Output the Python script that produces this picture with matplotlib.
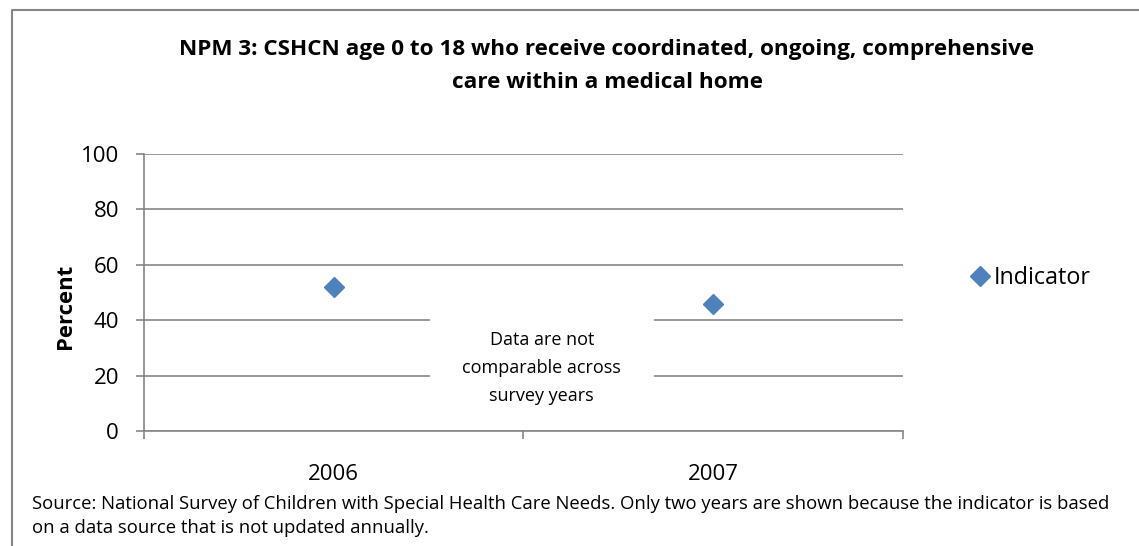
import matplotlib
matplotlib.use("Agg")
import matplotlib.pyplot as plt
from matplotlib.patches import Rectangle
from matplotlib.lines import Line2D

# data
years = ["2006", "2007"]
indicator = [52, 46]
yticks = [0, 20, 40, 60, 80, 100]

title = ("NPM 3: CSHCN age 0 to 18 who receive coordinated, ongoing, comprehensive\n"
         "care within a medical home")
note = "Data are not\ncomparable across\nsurvey years"
source = ("Source: National Survey of Children with Special Health Care Needs. Only two years are shown because the indicator is based\n"
          "on a data source that is not updated annually.")

plt.rcParams["font.family"] = ["Open Sans", "DejaVu Sans"]

W, H = 1139, 546
fig = plt.figure(figsize=(W / 100, H / 100), dpi=100)
fig.patch.set_facecolor("white")

gray = "#868686"
blue = "#4F81BD"

# outer frame (only top and left edges show in the picture)
fig.lines.append(Line2D([12 / W, 12 / W, 1.0], [0.0, 1 - 10 / H, 1 - 10 / H],
                        transform=fig.transFigure, color=gray, lw=1.5))

ax = fig.add_axes([144 / W, (H - 431) / H, 759 / W, 277 / H])

x = list(range(1, len(years) + 1))
ax.plot(x, indicator, linestyle="none", marker="D", markersize=10.5,
        color=blue, label="Indicator", zorder=3)

ax.set_xlim(0.5, len(years) + 0.5)
ax.set_ylim(0, 100)
ax.set_yticks(yticks)
ax.set_yticklabels([str(v) for v in yticks], fontsize=16)
ax.yaxis.grid(True, color=gray, lw=1.2)
ax.set_axisbelow(True)

# category boundaries get tick marks, centres get the labels
ax.set_xticks([0.5 + i for i in range(len(years) + 1)])
ax.set_xticklabels([])
ax.set_xticks(x, minor=True)
ax.set_xticklabels(years, minor=True, fontsize=16)
ax.tick_params(axis="x", which="major", length=6, color=gray, width=1.2)
ax.tick_params(axis="x", which="minor", length=0, pad=23.5)
ax.tick_params(axis="y", length=6, color=gray, width=1.2, pad=12)

for s in ["top", "right"]:
    ax.spines[s].set_visible(False)
for s in ["left", "bottom"]:
    ax.spines[s].set_color(gray)
    ax.spines[s].set_linewidth(1.2)

ax.set_ylabel("Percent", fontsize=15.9, fontweight="bold")
ax.yaxis.set_label_coords(-0.0896, 0.451)

# white box with the note over the gridlines
ax.add_patch(Rectangle((0.377, 0.011), 0.295, 0.426, transform=ax.transAxes,
                       facecolor="white", edgecolor="none", zorder=1.5))
ax.text(0.524, 0.226, note, transform=ax.transAxes, ha="center", va="center",
        fontsize=13, linespacing=1.72, zorder=2)

fig.text(607 / W, (H - 66) / H, title, ha="center", va="center",
         fontsize=16.2, fontweight="bold", linespacing=1.79)

fig.legend(loc="center left", bbox_to_anchor=(954 / W, (H - 278) / H),
           frameon=False, fontsize=16.8, handletextpad=0.0, handlelength=1.2,
           borderpad=0)

fig.text(32 / W, (H - 516) / H, source, ha="left", va="center",
         fontsize=13.35, linespacing=1.39)

fig.savefig("out.png", dpi=100)
